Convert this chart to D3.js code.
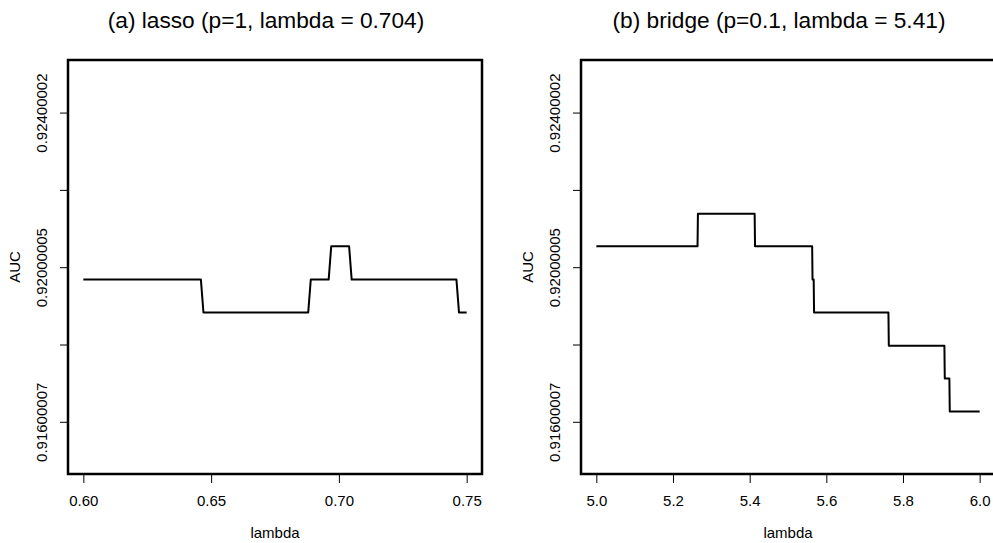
<!DOCTYPE html>
<html>
<head>
<meta charset="utf-8">
<script src="https://cdn.jsdelivr.net/npm/d3@7"></script>
<style>
  body { margin: 0; background: white; }
  svg { display: block; }
  text { font-family: "Liberation Sans", Arial, Helvetica, sans-serif; fill: #000; }
</style>
</head>
<body>
<svg id="chart" width="993" height="543"></svg>
<script>
// lasso panel: change points of the AUC curve over the lambda grid
var lasso_lambda = [0.600, 0.646, 0.647, 0.688, 0.689, 0.696, 0.697, 0.704, 0.705, 0.746, 0.747, 0.750];
var lasso_auc = [0.91968, 0.91968, 0.91883, 0.91883, 0.91968, 0.91968, 0.92054, 0.92054, 0.91968, 0.91968, 0.91883, 0.91883];

// bridge panel
var bridge_lambda = [5.000, 5.264, 5.265, 5.413, 5.414, 5.563, 5.564, 5.567, 5.568, 5.762, 5.763, 5.908, 5.909, 5.921, 5.922, 6.000];
var bridge_auc = [0.92054, 0.92054, 0.92138, 0.92138, 0.92054, 0.92054, 0.91968, 0.91968, 0.91883, 0.91883, 0.91797, 0.91797, 0.91712, 0.91712, 0.91627, 0.91627];

var y_ticks = [0.91600007, 0.918, 0.92000005, 0.922, 0.92400002];
var y_tick_labels = ['0.91600007', '', '0.92000005', '', '0.92400002'];
var lasso_x_ticks = [0.60, 0.65, 0.70, 0.75];
var bridge_x_ticks = [5.0, 5.2, 5.4, 5.6, 5.8, 6.0];

var titles = ['(a) lasso (p=1, lambda = 0.704)', '(b) bridge (p=0.1, lambda = 5.41)'];

var svg = d3.select('#chart');
var top_y = 60, bottom_y = 474;
var y_scale = d3.scaleLinear().domain([0.91465, 0.92536]).range([bottom_y, top_y]);

var draw_panel = function(left, right, x_domain, x_ticks, x_fmt, xs, ys, title){
    var x_scale = d3.scaleLinear().domain(x_domain).range([left, right]);
    var g = svg.append('g');

    // line
    var pts = xs.map(function(d, i){ return [d, ys[i]]; });
    g.append('path')
        .datum(pts)
        .attr('fill', 'none')
        .attr('stroke', '#000')
        .attr('stroke-width', 2)
        .attr('stroke-linejoin', 'round')
        .attr('d', d3.line().x(function(d){ return x_scale(d[0]); }).y(function(d){ return y_scale(d[1]); }));

    // x axis
    var x_axis = d3.axisBottom(x_scale).tickValues(x_ticks).tickFormat(x_fmt).tickSize(9).tickPadding(12);
    g.append('g').attr('transform', 'translate(0,' + bottom_y + ')')
        .call(x_axis)
        .call(function(a){ a.select('.domain').remove(); })
        .call(function(a){
            a.selectAll('line').attr('stroke', '#000').attr('stroke-width', 1);
            a.selectAll('text').style('font-size', '15px').style('font-family', '"Liberation Sans", Arial, sans-serif');
        });

    // y axis with rotated labels
    var y_axis = d3.axisLeft(y_scale).tickValues(y_ticks)
        .tickFormat(function(d, i){ return y_tick_labels[i]; }).tickSize(8);
    g.append('g').attr('transform', 'translate(' + left + ',0)')
        .call(y_axis)
        .call(function(a){ a.select('.domain').remove(); })
        .call(function(a){
            a.selectAll('line').attr('stroke', '#000').attr('stroke-width', 1);
            a.selectAll('text')
                .attr('x', null).attr('dy', null)
                .attr('text-anchor', 'middle')
                .attr('transform', 'translate(-21,0) rotate(-90)')
                .style('font-size', '15px')
                .style('font-family', '"Liberation Sans", Arial, sans-serif');
        });

    // box
    g.append('rect')
        .attr('x', left).attr('y', top_y)
        .attr('width', right - left).attr('height', bottom_y - top_y)
        .attr('fill', 'none').attr('stroke', '#000').attr('stroke-width', 2.5);

    // labels
    g.append('text').attr('x', (left + right) / 2 - 9).attr('y', 28)
        .attr('text-anchor', 'middle').style('font-size', '22.7px').text(title);
    g.append('text').attr('x', (left + right) / 2).attr('y', 538)
        .attr('text-anchor', 'middle').style('font-size', '15px').text('lambda');
    g.append('text')
        .attr('transform', 'translate(' + (left - 48) + ',' + ((top_y + bottom_y) / 2) + ') rotate(-90)')
        .attr('text-anchor', 'middle').style('font-size', '15px').text('AUC');
};

draw_panel(68, 482, [0.594, 0.756], lasso_x_ticks, d3.format('.2f'), lasso_lambda, lasso_auc, titles[0]);
draw_panel(581, 995, [4.96, 6.04], bridge_x_ticks, d3.format('.1f'), bridge_lambda, bridge_auc, titles[1]);
</script>
</body>
</html>
